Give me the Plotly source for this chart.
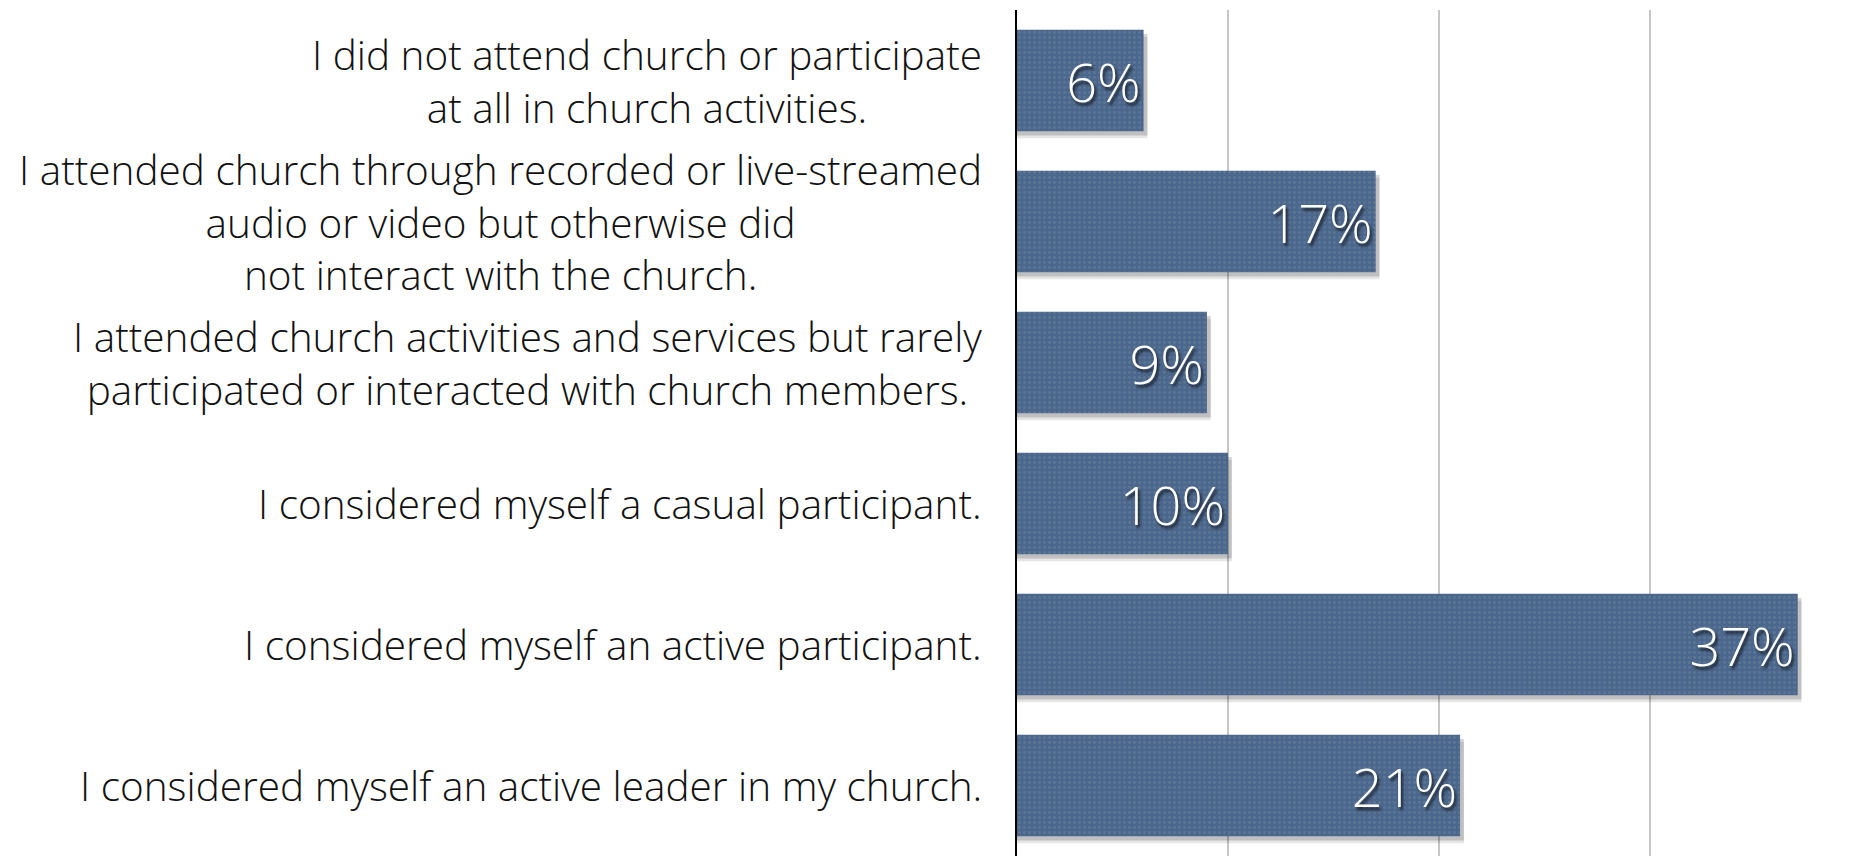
import plotly.graph_objects as go

# Survey responses: level of church involvement
categories = [
    "I did not attend church or participate<br>at all in church activities.",
    "I attended church through recorded or live-streamed<br>audio or video but otherwise did<br>not interact with the church.",
    "I attended church activities and services but rarely<br>participated or interacted with church members.",
    "I considered myself a casual participant.",
    "I considered myself an active participant.",
    "I considered myself an active leader in my church.",
]
percentages = [6, 17, 9, 10, 37, 21]
value_labels = ["6%", "17%", "9%", "10%", "37%", "21%"]

BAR_WIDTH = 0.72
LABEL_FONT = "Open Sans"

fig = go.Figure()

# soft drop shadow under each bar (two translucent layers)
for shift, alpha in [(0.05, 0.10), (0.03, 0.16)]:
    fig.add_trace(go.Bar(
        y=categories,
        x=[v + 0.18 for v in percentages],
        orientation="h",
        width=BAR_WIDTH,
        offset=-BAR_WIDTH / 2 + shift,
        marker=dict(color=f"rgba(0,0,0,{alpha})", line=dict(width=0)),
        hoverinfo="skip",
        showlegend=False,
    ))

fig.add_trace(go.Bar(
    y=categories,
    x=percentages,
    orientation="h",
    width=BAR_WIDTH,
    offset=-BAR_WIDTH / 2,
    marker=dict(
        color="#4e6a8f",
        line=dict(width=0),
        pattern=dict(shape=".", size=5, solidity=0.25,
                     fgcolor="#6a8596", bgcolor="#4c678e", fgopacity=0.5),
    ),
    text=value_labels,
    textposition="inside",
    insidetextanchor="end",
    textangle=0,
    textfont=dict(family=LABEL_FONT, size=54, color="white", weight=300,
                  shadow="2px 3px 3px rgba(0,0,0,0.7)"),
    showlegend=False,
))

# category labels, centred line by line to the left of the axis
for cat in categories:
    fig.add_annotation(
        xref="paper", x=0, yref="y", y=cat,
        text=cat, showarrow=False,
        xanchor="right", yanchor="middle", align="center",
        xshift=-33,
        font=dict(family=LABEL_FONT, size=40.5, color="#111111", weight=300),
    )

fig.update_layout(
    width=1864, height=856,
    margin=dict(l=1017, r=3, t=10, b=0),
    paper_bgcolor="white", plot_bgcolor="white",
    barmode="overlay",
    bargap=0.28,
    xaxis=dict(range=[0, 40], dtick=10, showgrid=True, gridcolor="#c6c6c6",
               gridwidth=1.5, zeroline=False, showticklabels=False,
               showline=False, fixedrange=True),
    yaxis=dict(autorange="reversed", showticklabels=False, showgrid=False,
               showline=True, linecolor="black", linewidth=2,
               zeroline=False, fixedrange=True),
)

fig.write_html("out.html")
